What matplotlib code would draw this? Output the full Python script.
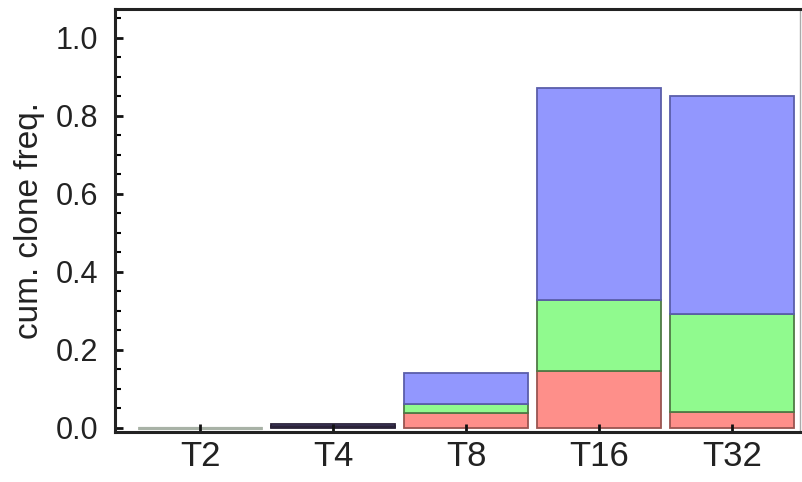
import numpy as np
import matplotlib.pyplot as plt
from matplotlib.ticker import MultipleLocator

plt.rcParams['font.family'] = ['Liberation Sans', 'DejaVu Sans']

# cumulative clone frequency per time point, split in three clone classes
timepoints = ['T2', 'T4', 'T8', 'T16', 'T32']
red = [0.0, 0.003, 0.038, 0.146, 0.041]
green = [0.0, 0.003, 0.024, 0.182, 0.251]
blue = [0.0, 0.004, 0.079, 0.544, 0.559]

x = np.arange(len(timepoints))
w = 0.93

fig = plt.figure(figsize=(8.02, 4.82), dpi=100)
ax = fig.add_axes([0.1434, 0.1037, 0.8541, 0.8776])

# edge colours: T2 shows up as a grey line, T4 as a dark line
def edges(c):
    return ['#a8b2a6', '#2a2238'] + [c] * 3

lw = [2.2, 1.3, 1.3, 1.3, 1.3]
ax.bar(x, red, w, color='#fe8f8a', edgecolor=edges('#9a5550'), linewidth=lw)
ax.bar(x, green, w, bottom=red, color='#90fa8e', edgecolor=edges('#4f7a45'), linewidth=lw)
bot = np.array(red) + np.array(green)
ax.bar(x, blue, w, bottom=bot, color='#9297fe', edgecolor=edges('#5a5eaa'), linewidth=lw)

ax.set_xlim(-0.64, 4.51)
ax.set_ylim(-0.0103, 1.074)
ax.set_xticks(x)
ax.set_xticklabels(timepoints)
ax.yaxis.set_major_locator(MultipleLocator(0.2))
ax.yaxis.set_minor_locator(MultipleLocator(0.05))
ax.yaxis.set_major_formatter(plt.FuncFormatter(lambda v, p: '%.1f' % v))

ax.tick_params(axis='both', direction='in', colors='#111111',
               width=2, length=6, labelcolor='#222222')
ax.tick_params(axis='y', which='minor', direction='in', width=1.5, length=4)
ax.tick_params(axis='x', pad=6, labelsize=25)
ax.tick_params(axis='y', pad=12, labelsize=22)

for s in ['left', 'bottom', 'top']:
    ax.spines[s].set_linewidth(2.2)
    ax.spines[s].set_color('#222222')
ax.spines['right'].set_linewidth(1.0)
ax.spines['right'].set_color('#aaaaaa')

ax.set_ylabel('cum. clone freq.', fontsize=24, color='#222222', labelpad=8)

plt.savefig('out.png', dpi=100)
